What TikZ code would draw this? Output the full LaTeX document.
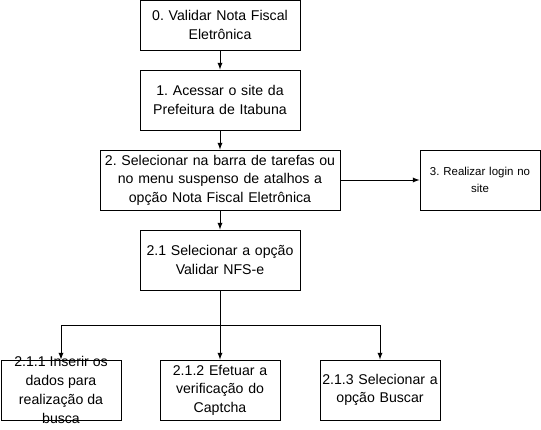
\documentclass[tikz,border=0pt]{standalone}
\usepackage{fontspec}
\setmainfont{Liberation Sans}
\frenchspacing

\tikzstyle{block} = [rectangle, draw, fill=white, text width=90pt, text centered, minimum height=45pt, inner sep=0pt, line width=.75pt, font=\fontsize{10.6}{13.9}\selectfont]
\tikzstyle{line} = [draw, -latex, line width=.75pt]

\begin{document}
\begin{tikzpicture}[node distance = 60pt, auto]

    \useasboundingbox[fill=white] (0,0) rectangle (405.75pt,-321.75pt);

    % Validar Nota Fiscal
    \node [block, text width=120pt, minimum height=37.5pt] (validar) at (165pt,-18.75pt) {0. Validar Nota Fiscal\\Eletrônica};
    % Acessar site
    \node [block, text width=120pt, below of=validar, node distance=56.25pt
            ] (acessar) {1. Acessar o site da\\Prefeitura de Itabuna};
    % Selecionar na barra
    \node [block, text width=180pt, below of=acessar
            ] (selecionar) {2. Selecionar na barra de tarefas ou\\no menu suspenso de atalhos a\\opção Nota Fiscal Eletrônica};
    % Realizar login
    \node [block, right of=selecionar, node distance=195pt,
            font=\fontsize{8.6}{13}\selectfont] (login) {3. Realizar login no\\site};
    % Validar NFS-e
    \node [block, text width=120pt, below of=selecionar
            ] (validarnfse) {2.1 Selecionar a opção\\Validar NFS-e};

    % sub steps
    \node [block, below of=validarnfse, node distance=97.5pt
            ] (captcha) {2.1.2 Efetuar a\\verificação do\\Captcha};
    \node [block, left of=captcha, node distance=119.25pt
            ] (inserir) {};
    \node [at=(inserir), align=center, inner sep=0pt,
            font=\fontsize{10.6}{14.2}\selectfont] (inserirtxt) {2.1.1 Inserir os\\dados para\\realização da\\busca};
    \node [block, right of=captcha, node distance=120pt
            ] (buscar) {2.1.3 Selecionar a\\opção Buscar};

    % branch point
    \coordinate (split) at ([yshift=-26.25pt]validarnfse.south);

    % Path
    \path[line](validar)--(acessar);
    \path[line](acessar)--(selecionar);
    \path[line](selecionar)--(login);
    \path[line](selecionar)--(validarnfse);
    \path[line](validarnfse)--(captcha);
    \path[line](validarnfse.south)--(split)-|(inserir.north);
    \path[line](split)-|(buscar.north);

\end{tikzpicture}
\end{document}
